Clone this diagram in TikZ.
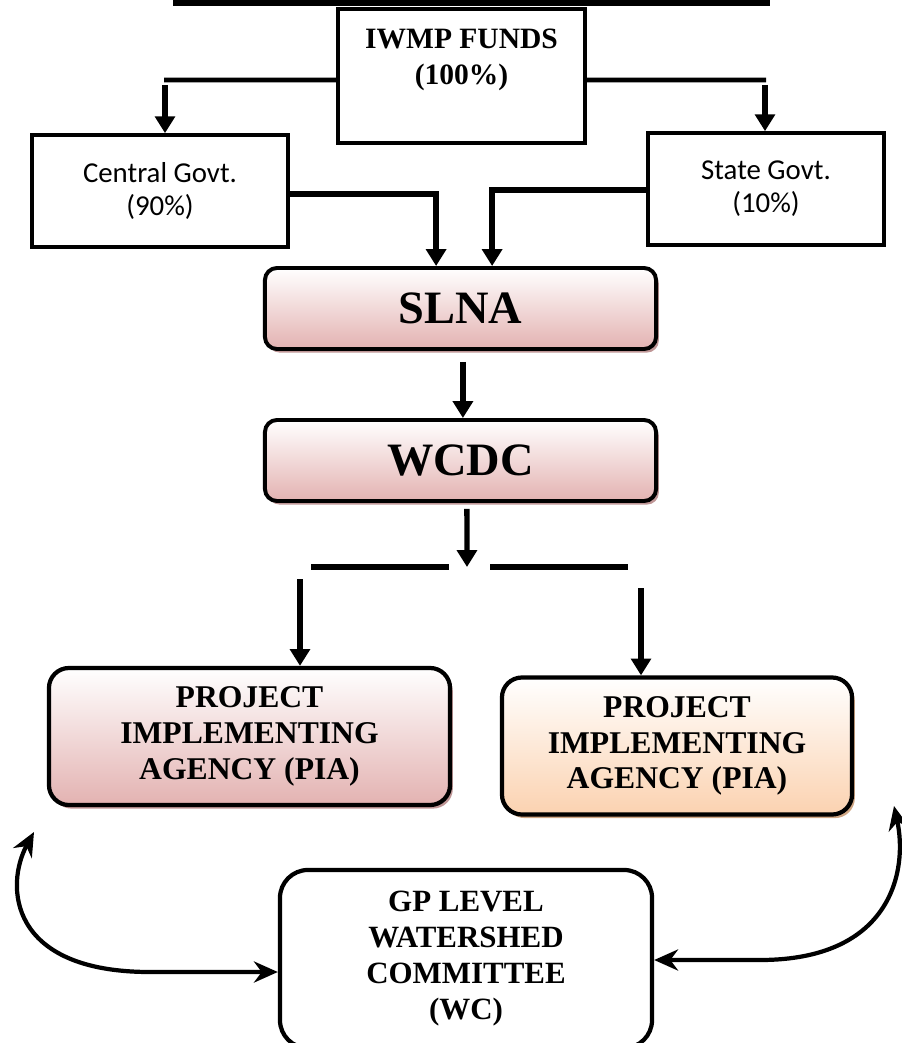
\documentclass[tikz,border=0pt]{standalone}
\usepackage{fontspec}
\setmainfont{Liberation Serif}
\newfontfamily\govfont{Carlito}
\usepackage{xcolor}
\usetikzlibrary{arrows.meta,positioning,shadows}
\definecolor{iwmppink}{HTML}{E3B2B1}
\definecolor{iwmppeach}{HTML}{FBD2B0}
\definecolor{iwmpshadow}{HTML}{BF9696}
\definecolor{iwmpshadowpeach}{HTML}{CFA684}

\begin{document}
\begin{tikzpicture}[x=0.025cm,y=-0.025cm,
        plainbox/.style={
            draw,
            line width=2.6pt,
            minimum width=6.4cm,
            minimum height=2.8cm,
            align=center,
            font=\govfont\fontsize{20.5}{23.5}\selectfont
        },
        levelbox/.style={
            draw,
            line width=2.8pt,
            rounded corners=0.3cm,
            minimum width=9.775cm,
            minimum height=2.025cm,
            font=\bfseries\fontsize{33}{36}\selectfont,
            top color=white,
            bottom color=iwmppink,
            drop shadow={shadow xshift=0.07cm,shadow yshift=-0.09cm,fill=iwmpshadow,opacity=1}
        },
        agency/.style={
            draw,
            line width=3pt,
            rounded corners=0.5cm,
            minimum height=3.425cm,
            align=center,
            font=\bfseries\fontsize{22.5}{25.5}\selectfont,
            top color=white,
            bottom color=#1
        },
        flow/.style={-{Triangle[width=14pt,length=12pt]},line width=3.8pt},
        bar/.style={line width=4pt},
        loop/.style={{Stealth[width=15pt,length=17pt]}-{Stealth[width=15pt,length=17pt]},line width=3pt}
    ]
        \useasboundingbox (0,0) rectangle (901,1043);

        \coordinate (titleL) at (173,2);
        \coordinate (titleR) at (770,2);
        \draw[line width=5pt] (titleL) -- (titleR);

        \node[draw,line width=2.6pt,minimum width=6.175cm,minimum height=3.35cm] (fund) at (461.5,76) {};
        \node[inner sep=0pt,align=center,font=\bfseries\fontsize{21}{25}\selectfont,below=0.55cm of fund.north] (fundtext) {IWMP FUNDS\\(100\%)};

        \node[plainbox] (central) at (160,191) {Central Govt.\\(90\%)};
        \node[plainbox,minimum width=5.9cm] (state) at (766,189) {State Govt.\\(10\%)};

        \node[levelbox] (slna) at (460.5,308.5) {SLNA};
        \node[levelbox] (wcdc) at (460.5,460.5) {WCDC};

        \node[agency=iwmppink,minimum width=10.025cm,
            drop shadow={shadow xshift=0.07cm,shadow yshift=-0.09cm,fill=iwmpshadow,opacity=1}] (pia1) at (249.5,736.5) {PROJECT\\IMPLEMENTING\\AGENCY (PIA)};
        \node[agency=iwmppeach,minimum width=8.75cm,
            drop shadow={shadow xshift=0.07cm,shadow yshift=-0.09cm,fill=iwmpshadowpeach,opacity=1}] (pia2) at (677,746) {PROJECT\\IMPLEMENTING\\AGENCY (PIA)};

        \node[draw,line width=3pt,rounded corners=0.7cm,minimum width=9.3cm,minimum height=4.45cm,
            align=center,font=\bfseries\fontsize{22}{25.6}\selectfont] (gp) at (466,959) {GP LEVEL\\WATERSHED\\COMMITTEE\\(WC)};

        \coordinate (lsplit) at (165,85);
        \coordinate (rsplit) at (765,85);
        \draw[line width=3.4pt] ([yshift=-0.1cm]fund.west) -- (164,80);
        \draw[line width=3.4pt] ([yshift=-0.1cm]fund.east) -- (766,80);
        \draw[flow] (lsplit) -- (lsplit |- central.north);
        \draw[flow] (rsplit) -- (rsplit |- state.north);

        \draw[flow] ([yshift=-0.075cm]central.east) -| ([xshift=-0.61cm]slna.north);
        \draw[flow] ([yshift=-0.025cm]state.west) -| ([xshift=0.79cm]slna.north);

        \draw[flow] ([xshift=0.06cm,yshift=-0.275cm]slna.south) -- ([xshift=0.06cm]wcdc.north);

        \coordinate (split) at (467,567);
        \draw[flow] ([xshift=0.16cm,yshift=-0.15cm]wcdc.south) -- (split);
        \draw[bar] (311,567) -- (449,567);
        \draw[bar] (490,567) -- (628,567);

        \coordinate (piaL) at (300,579);
        \coordinate (piaR) at (641,588);
        \draw[flow] (piaL) -- (piaL |- pia1.north);
        \draw[flow] (piaR) -- (piaR |- pia2.north);

        \coordinate (loopL) at (34,832);
        \coordinate (loopR) at (894,806);
        \draw[loop] (loopL) .. controls (5,885) and (8,972) .. (150,972) -- (gp.west |- 0,972);
        \draw[loop] (loopR) .. controls (908,870) and (892,960) .. (760,960) -- (gp.east |- 0,960);
    \end{tikzpicture}
\end{document}
